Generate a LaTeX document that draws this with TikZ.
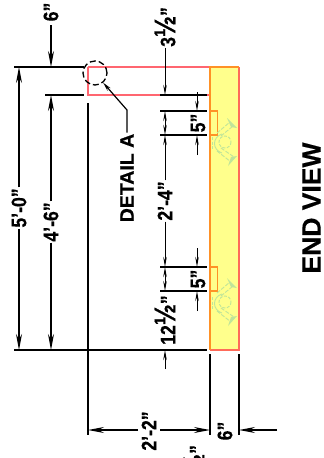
\documentclass[tikz,border=0pt]{standalone}
\usepackage{fontspec}
\setmainfont{Liberation Sans}[BoldFeatures={FakeBold=0.5}]
\usetikzlibrary{positioning,arrows.meta}
\definecolor{slabfill}{HTML}{FFFF8C}
\definecolor{slabred}{HTML}{FF6B5A}
\definecolor{slaborange}{HTML}{FF9126}
\definecolor{outlinered}{HTML}{FF6670}
\definecolor{boltgreen}{HTML}{BFE59A}
\tikzset{
    dimline/.style={black, line width=1.6pt},
    biglabel/.style={rotate=90, xscale=.84, transform shape, inner sep=1pt, font=\bfseries\fontsize{21}{21}\selectfont},
    bigarrow/.style={black, line width=1.3pt, -{Stealth[length=16pt,width=6pt]}},
    smallarrow/.style={black, line width=1pt, -{Stealth[length=10pt,width=3.5pt]}},
    boltline/.style={boltgreen, line width=0.9pt},
}
\newcommand{\bighalf}{{\fontsize{30}{30}\selectfont ½}}
\begin{document}
\begin{tikzpicture}[x=1pt,y=-1pt]
\useasboundingbox (0,0) rectangle (324,458);

% slab and outline
\fill[slabfill] (210,67) rectangle (239,350);
\draw[outlinered, line width=1.5pt] (88,67) -- (210,67) (88,67) -- (88,95) -- (210,95);
\draw[slabred, line width=1.3pt] (239,67) -- (239,350) -- (210,350);
\draw[slaborange, line width=1.3pt] (210,350) -- (210,67) -- (239,67);

% pockets and bolts
\foreach \i [evaluate=\i as \ni using {int(111+\i*156)},
    evaluate=\i as \nb using {int(\i*160)}] in {0,1}
{
    \draw[slaborange, line width=1.3pt] (210,\ni) rectangle ++(7.5,24);
    \begin{scope}[shift={(0,\nb)}]
    \draw[boltline, dashed, dash pattern=on 3pt off 1.5pt] (225,142) circle (6);
    \draw[boltline] (222,134) .. controls (212,137) and (212,150) .. (222,153);
    \draw[boltline, dashed, dash pattern=on 4pt off 1.5pt] (217,133) -- (230,122) (221,136) -- (233,126);
    \draw[boltline, dashed, dash pattern=on 4pt off 1.5pt] (217,151) -- (231,162) (221,148) -- (234,157);
    \fill[boltgreen] (227,118) -- (237,128) -- (231,127) -- cycle;
    \fill[boltgreen] (228,166) -- (237,156) -- (231,157) -- cycle;
    \draw[boltline, dashed, dash pattern=on 3pt off 1.5pt] (212,137) -- (212,150);
    \end{scope}
}

% extension lines
\coordinate (topL) at (14,67);   \coordinate (topR) at (84,67);
\coordinate (lipL) at (45,95);   \coordinate (lipR) at (84,95);
\coordinate (botL) at (14,350);  \coordinate (botR) at (207,350);
\coordinate (wallT) at (88,103); \coordinate (wallB) at (88,435);
\draw[dimline] (topL) -- (topR);
\draw[dimline] (lipL) -- (lipR);
\draw[dimline] (botL) -- (botR);
\draw[dimline] (wallT) -- (wallB);
\foreach \ni in {95,111,135,267,291}
    \draw[dimline] (160,\ni) -- (207,\ni);
\coordinate (faceT) at (210,354); \coordinate (faceB) at (210,435);
\coordinate (backT) at (239,354); \coordinate (backB) at (239,435);
\draw[dimline] (faceT) -- (faceB);
\draw[dimline] (backT) -- (backB);

% overall heights
\node[biglabel] (overall) at (19,208) {5'-0"};
\coordinate (overallT) at (19,67); \coordinate (overallB) at (19,350);
\draw[bigarrow] (overall.east) -- (overallT);
\draw[bigarrow] (overall.west) -- (overallB);

\node[biglabel] (inner) at (51,222) {4'-6"};
\coordinate (innerT) at (51,95); \coordinate (innerB) at (51,350);
\draw[bigarrow] (inner.east) -- (innerT);
\draw[bigarrow] (inner.west) -- (innerB);

\node[biglabel] (lip) at (51,12) {6"};
\coordinate (lipT) at (51,67);
\draw[bigarrow] (lip.west) ++(0,3) -- (lipT);

% chain on the inner face
\node[biglabel] (third) at (165,27) {3\bighalf"};
\coordinate (thirdB) at (165,95);
\draw[smallarrow] (third.west) -- (thirdB);

\node[biglabel] (span) at (165,201) {2'-4"};
\coordinate (spanT) at (165,135); \coordinate (spanB) at (165,267);
\draw[smallarrow] (span.east) -- (spanT);
\draw[smallarrow] (span.west) -- (spanB);

\node[biglabel] (edge) at (165,320) {12\bighalf"};
\coordinate (edgeB) at (165,350); \coordinate (edgeE) at (165,369);
\draw[smallarrow] (edgeE) -- (edgeB);

\foreach \ni/\nj in {111/135,267/291}
    \draw[black, line width=1pt, {Stealth[length=10pt,width=3.5pt]}-{Stealth[length=10pt,width=3.5pt]}] (165,\ni) -- (165,\nj);

% pocket sizes
\foreach \ni/\nname in {111/pocketA,267/pocketB}
{
    \node[biglabel] (\nname) at (198,\ni+12) {5"};
    \draw[smallarrow] (197,\ni-19) -- (197,\ni);
    \draw[smallarrow] (197,\ni+44) -- (197,\ni+24);
}

% bottom widths
\node[biglabel] (width) at (149,431) {2'-2"};
\coordinate (widthA) at (138,430); \coordinate (widthB) at (160,430);
\coordinate (widthL) at (88,430);  \coordinate (widthR) at (210,430);
\draw[bigarrow] (widthA) -- (widthL);
\draw[bigarrow] (widthB) -- (widthR);

\node[biglabel] (depth) at (225,431) {6"};
\coordinate (depthL) at (239,430); \coordinate (depthE) at (277,430);
\draw[bigarrow] (depthE) -- (depthL);

\node[biglabel, anchor=east] (cutoff) at (194,444) {\bighalf"};

% detail callout
\node[draw=black, dash pattern=on 6pt off 3pt, line width=1.3pt, circle, minimum size=24pt, inner sep=0pt] (detailcircle) at (95,73) {};
\node[rotate=90, inner sep=1pt, font=\bfseries\fontsize{19.5}{19.5}\selectfont] (detail) at (127,178) {DETAIL A};
\coordinate (leaderknee) at (127,110);
\draw[black, line width=1.2pt, -{Stealth[length=9pt,width=4pt]}] (detail.east) -- (leaderknee) -- (detailcircle.-50);

\node[rotate=90, inner sep=0pt, font=\bfseries\fontsize{26.5}{26.5}\selectfont] (endview) at (311.5,208) {END VIEW};
\end{tikzpicture}
\end{document}
